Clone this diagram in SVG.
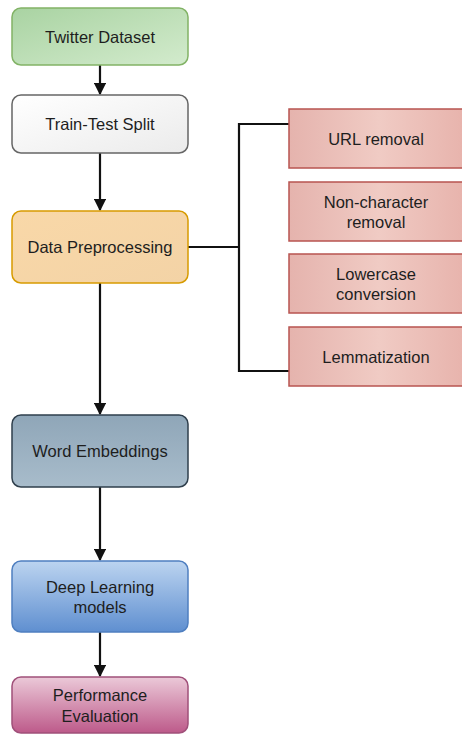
<svg xmlns="http://www.w3.org/2000/svg" width="462" height="735" viewBox="0 0 462 735">
<style>
text{font-family:"Liberation Sans",Arial,sans-serif;font-size:16.5px;fill:#1e1e1e;text-anchor:middle;dominant-baseline:central}
.box{stroke-width:1.5}
.conn{fill:none;stroke:#111;stroke-width:2.2}
</style>
<defs>
<linearGradient id="gG" x1="0" y1="0" x2="1" y2="1"><stop offset="0" stop-color="#a9d3a2"/><stop offset="1" stop-color="#d3ebcd"/></linearGradient>
<linearGradient id="gW" x1="0" y1="0" x2="1" y2="1"><stop offset="0" stop-color="#ffffff"/><stop offset="1" stop-color="#ebebeb"/></linearGradient>
<linearGradient id="gO" x1="0" y1="0" x2="1" y2="1"><stop offset="0" stop-color="#f9d8a8"/><stop offset="1" stop-color="#f3d3a6"/></linearGradient>
<linearGradient id="gS" x1="0" y1="0" x2="0" y2="1"><stop offset="0" stop-color="#8fa6b8"/><stop offset="1" stop-color="#a8bccb"/></linearGradient>
<linearGradient id="gB" x1="0" y1="0" x2="0" y2="1"><stop offset="0" stop-color="#bcd4f0"/><stop offset="1" stop-color="#5f8fd0"/></linearGradient>
<linearGradient id="gP" x1="0" y1="0" x2="0" y2="1"><stop offset="0" stop-color="#ebc9d8"/><stop offset="1" stop-color="#bd5a8a"/></linearGradient>
<linearGradient id="gR" x1="0" y1="0" x2="1" y2="0"><stop offset="0" stop-color="#e5b3ad"/><stop offset="0.5" stop-color="#f0cbc4"/><stop offset="1" stop-color="#e7b2ab"/></linearGradient>
<marker id="arr" viewBox="0 0 10 10" refX="9" refY="5" markerWidth="5.5" markerHeight="5.5" orient="auto" markerUnits="strokeWidth"><path d="M0,0 L10,5 L0,10 z" fill="#111"/></marker>
</defs>
<g id="connectors">
<line class="conn" x1="100" y1="65" x2="100" y2="94" marker-end="url(#arr)"/>
<line class="conn" x1="100" y1="153" x2="100" y2="210" marker-end="url(#arr)"/>
<line class="conn" x1="100" y1="283" x2="100" y2="414" marker-end="url(#arr)"/>
<line class="conn" x1="100" y1="487" x2="100" y2="560" marker-end="url(#arr)"/>
<line class="conn" x1="100" y1="632" x2="100" y2="676" marker-end="url(#arr)"/>
<path class="conn" d="M188,247 H239 M289,124 H239 V371 H289"/>
</g>
<g id="twitter-dataset"><rect class="box" x="12" y="8" width="176" height="57" rx="9" fill="url(#gG)" stroke="#82b366"/><text x="100" y="37">Twitter Dataset</text></g>
<g id="train-test-split"><rect class="box" x="12" y="95" width="176" height="58" rx="9" fill="url(#gW)" stroke="#666"/><text x="100" y="124">Train-Test Split</text></g>
<g id="data-preprocessing"><rect class="box" x="12" y="211" width="176" height="72" rx="9" fill="url(#gO)" stroke="#d79b00"/><text x="100" y="247">Data Preprocessing</text></g>
<g id="word-embeddings"><rect class="box" x="12" y="415" width="176" height="72" rx="9" fill="url(#gS)" stroke="#2f3f4c"/><text x="100" y="451">Word Embeddings</text></g>
<g id="deep-learning"><rect class="box" x="12" y="561" width="176" height="71" rx="9" fill="url(#gB)" stroke="#4f7fc0"/><text x="100" y="587">Deep Learning</text><text x="100" y="607">models</text></g>
<g id="performance-evaluation"><rect class="box" x="12" y="677" width="176" height="56" rx="9" fill="url(#gP)" stroke="#a0507a"/><text x="100" y="695">Performance</text><text x="100" y="716">Evaluation</text></g>
<g id="url-removal"><rect class="box" x="289" y="109" width="180" height="59" fill="url(#gR)" stroke="#b85450"/><text x="376" y="139">URL removal</text></g>
<g id="non-character-removal"><rect class="box" x="289" y="182" width="180" height="59" fill="url(#gR)" stroke="#b85450"/><text x="376" y="202">Non-character</text><text x="376" y="222">removal</text></g>
<g id="lowercase-conversion"><rect class="box" x="289" y="254" width="180" height="59" fill="url(#gR)" stroke="#b85450"/><text x="376" y="274">Lowercase</text><text x="376" y="294">conversion</text></g>
<g id="lemmatization"><rect class="box" x="289" y="327" width="180" height="59" fill="url(#gR)" stroke="#b85450"/><text x="376" y="357">Lemmatization</text></g>
</svg>
